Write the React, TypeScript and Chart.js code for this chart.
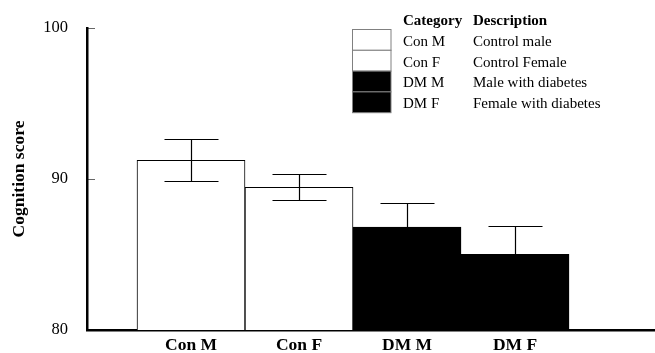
import React, { useEffect, useRef } from "react";
import { Chart, registerables } from "chart.js";

Chart.register(...registerables);

const categories = ["Con M", "Con F", "DM M", "DM F"];
const descriptions = ["Control male", "Control Female", "Male with diabetes", "Female with diabetes"];
const means = [91.24, 89.45, 86.82, 85.01];
const errors = [1.38, 0.87, 1.59, 1.88];
const barColors = ["#ffffff", "#ffffff", "#000000", "#000000"];
const yTickValues = [80, 90, 100];
const legendHeaders = ["Category", "Description"];

const FONT = '"Liberation Serif", "Times New Roman", serif';

const errorBarPlugin = {
  id: "errorBars",
  afterDatasetsDraw(chart: any) {
    const xs = chart.scales.x;
    const ys = chart.scales.y;
    const ctx = chart.ctx;
    ctx.save();
    ctx.strokeStyle = "#000";
    ctx.lineWidth = 1.2;
    means.forEach((m, i) => {
      const x = Math.round(xs.getPixelForValue(i + 1)) + 0.5;
      const half = xs.getPixelForValue(1.25) - xs.getPixelForValue(1);
      const yt = Math.round(ys.getPixelForValue(m + errors[i])) + 0.5;
      const yb = Math.round(ys.getPixelForValue(m - errors[i])) + 0.5;
      ctx.beginPath();
      ctx.moveTo(x, yt);
      ctx.lineTo(x, yb);
      ctx.moveTo(x - half, yt);
      ctx.lineTo(x + half, yt);
      ctx.moveTo(x - half, yb);
      ctx.lineTo(x + half, yb);
      ctx.stroke();
    });
    ctx.restore();
  },
};

const legendPlugin = {
  id: "tableLegend",
  afterDraw(chart: any) {
    const ctx = chart.ctx;
    const boxX = 352.5;
    const boxW = 38.5;
    const boxTop = 29.5;
    const rowH = 20.8;
    const col1 = 403;
    const col2 = 473;
    ctx.save();
    ctx.textBaseline = "middle";
    ctx.textAlign = "left";
    ctx.fillStyle = "#000";
    ctx.font = `bold 15px ${FONT}`;
    ctx.fillText(legendHeaders[0], col1, 21);
    ctx.fillText(legendHeaders[1], col2, 21);
    ctx.font = `15px ${FONT}`;
    categories.forEach((c, i) => {
      const y = boxTop + i * rowH;
      ctx.fillStyle = barColors[i];
      ctx.fillRect(boxX, y, boxW, rowH);
      ctx.strokeStyle = "#808080";
      ctx.lineWidth = 1;
      ctx.strokeRect(boxX, y, boxW, rowH);
      ctx.fillStyle = "#000";
      ctx.fillText(c, col1, 42 + i * 20.7);
      ctx.fillText(descriptions[i], col2, 42 + i * 20.7);
    });
    ctx.restore();
  },
};

export default function App() {
  const ref = useRef<HTMLCanvasElement>(null);
  useEffect(() => {
    if (!ref.current) return;
    const chart = new Chart(ref.current, {
      type: "bar",
      data: {
        datasets: [
          {
            data: means.map((m, i) => ({ x: i + 1, y: m })),
            backgroundColor: barColors,
            borderColor: "#000",
            borderWidth: 1,
            barPercentage: 1,
            categoryPercentage: 1,
          },
        ],
      },
      options: {
        responsive: false,
        animation: false,
        devicePixelRatio: 1,
        layout: { padding: { top: 28, left: 0, right: 0, bottom: 0 } },
        plugins: { legend: { display: false }, tooltip: { enabled: false } },
        scales: {
          x: {
            type: "linear",
            offset: false,
            min: 0.037,
            max: 5.296,
            grid: { display: false, drawTicks: false },
            border: { display: true, color: "#000", width: 2.5 },
            afterBuildTicks: (scale: any) => {
              scale.ticks = categories.map((_, i) => ({ value: i + 1 }));
            },
            afterFit: (scale: any) => {
              scale.height = 23;
              scale.paddingLeft = 0;
              scale.paddingRight = 0;
            },
            ticks: {
              autoSkip: false,
              maxRotation: 0,
              padding: 5,
              color: "#000",
              font: { family: FONT, size: 17.5, weight: "bold" },
              callback: (v: any) => categories[Math.round(Number(v)) - 1] ?? "",
            },
          },
          y: {
            min: yTickValues[0],
            max: yTickValues[yTickValues.length - 1],
            afterBuildTicks: (scale: any) => {
              scale.ticks = yTickValues.map((v) => ({ value: v }));
            },
            afterFit: (scale: any) => {
              scale.width = 87;
              scale.paddingTop = 0;
              scale.paddingBottom = 0;
            },
            grid: {
              display: true,
              drawOnChartArea: false,
              drawTicks: true,
              tickLength: -8,
              color: "#666",
              lineWidth: 1,
            },
            border: { display: true, color: "#000", width: 2.5 },
            ticks: {
              padding: 27,
              color: "#000",
              font: { family: FONT, size: 16.5 },
            },
            title: {
              display: true,
              text: "Cognition score",
              color: "#000",
              padding: { top: 8.5, bottom: 0 },
              font: { family: FONT, size: 17.5, weight: "bold" },
            },
          },
        },
      },
      plugins: [errorBarPlugin, legendPlugin],
    } as any);
    return () => chart.destroy();
  }, []);
  return (
    <div style={{ position: "fixed", left: 0, top: 0, width: 655, height: 353, background: "#fff" }}>
      <canvas ref={ref} width={655} height={353} style={{ display: "block" }} />
    </div>
  );
}
